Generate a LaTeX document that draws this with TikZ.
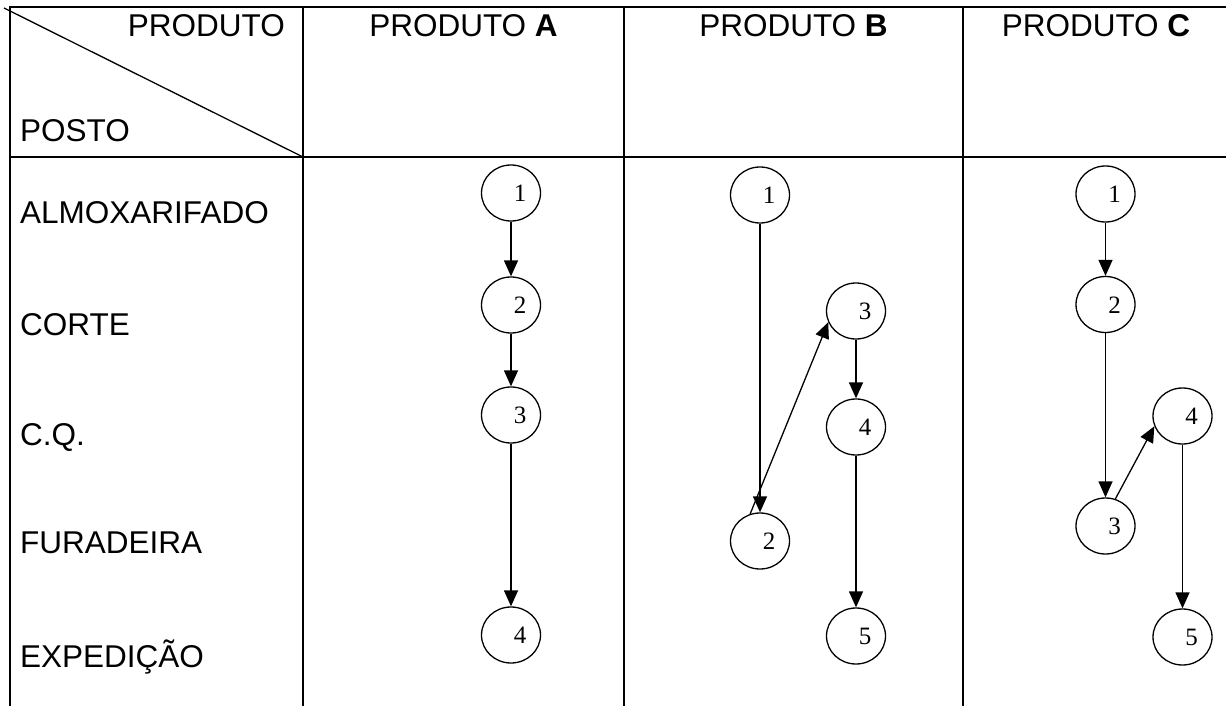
\documentclass[tikz,border=0pt]{standalone}
\usepackage{fontspec}
\setmainfont{Liberation Sans}
\newfontfamily\numfont{Liberation Serif}
\usetikzlibrary{arrows.meta,shapes.geometric}
\tikzset{
  gridln/.style={line width=1.6pt, line cap=rect},
  flowln/.style={-{Triangle[length=16pt,width=14pt]}, line width=1.3pt},
  station/.style={ellipse, draw, line width=1.3pt, minimum width=59pt,
    minimum height=56pt, inner sep=0pt,
    font=\numfont\fontsize{25}{25}\selectfont,
    text height=17pt, text depth=0pt,
    execute at begin node={\hspace*{18pt}}},
  lbl/.style={font=\fontsize{31.5}{36}\selectfont, inner sep=0pt},
}

\begin{document}
\begin{tikzpicture}[x=1pt, y=-1pt]
    \useasboundingbox (0,0) rectangle (1226,706);
    % table rules
    \coordinate (corner) at (303,157);
    \draw[gridln] (10,7) -- (1226,7);
    \draw[gridln] (10,157) -- (1226,157);
    \foreach \x in {10,303,624,963}
      \draw[gridln] (\x,7) -- (\x,706);
    \draw[line width=1.3pt] (4,8) -- (corner);
    % header texts
    \node[lbl, anchor=base east] (prod) at (285,36.5) {PRODUTO};
    \node[lbl, anchor=base west] (posto) at (20,142) {POSTO};
    \foreach \x/\p in {463.5/A, 793.5/B, 1096/C}
      \node[lbl, anchor=base] (hd\p) at (\x,36.5) {PRODUTO \textbf{\p}};
    % stations
    \foreach \y/\nm/\txt in {223/almox/ALMOXARIFADO, 335/corte/CORTE,
        445/cq/C.Q., 553/fura/FURADEIRA, 667/exped/EXPEDIÇÃO}
      \node[lbl, anchor=base west] (\nm) at (20,\y) {\txt};
    % operation sequence of each product
    \foreach \nm/\x/\y/\n in {a1/511/193/1, a2/511/305/2, a3/511/415/3,
        a4/511/635/4,
        b1/760/195/1, b2/760/541/2, b3/856/311/3, b4/856/427/4,
        b5/856/636/5,
        c1/1105.5/194/1, c2/1105.5/304.5/2, c3/1105.5/526/3,
        c4/1182.5/416/4, c5/1182.5/637/5}
      \node[station] (\nm) at (\x,\y) {\n};
    \foreach \s/\t in {a1/a2, a2/a3, a3/a4, b1/b2, b3/b4, b4/b5,
        c1/c2, c2/c3, c4/c5}
      \draw[flowln] (\s) -- (\t);
    \draw[flowln] (b2.110) -- (b3.202);
    \draw[flowln] (c3.70) -- (c4.200);
  \end{tikzpicture}
\end{document}
